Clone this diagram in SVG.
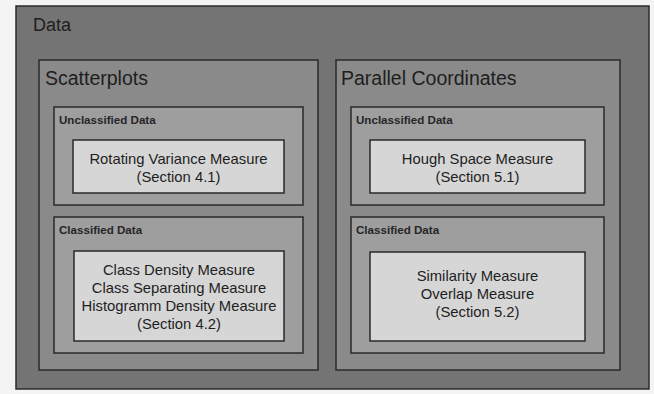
<svg xmlns="http://www.w3.org/2000/svg" width="654" height="394" viewBox="0 0 654 394">
<style>
.b{stroke:#2a2a2a;stroke-width:1.5}
.l0{fill:#747474}
.l1{fill:#8a8a8a}
.l2{fill:#9e9e9e}
.l3{fill:#d6d6d6}
text{font-family:"Liberation Sans",Arial,sans-serif;fill:#1e1e1e}
.t0{font-size:18px}
.t1{font-size:19.5px}
.t2{font-size:11.6px;font-weight:bold;fill:#262626}
.t3{font-size:14.8px;text-anchor:middle}
</style>
<rect width="654" height="394" fill="#f4f4f4"/>
<g id="data">
<rect class="b l0" x="16" y="6" width="633" height="383"/>
<text class="t0" x="33" y="31">Data</text>
</g>
<g id="scatterplots">
<rect class="b l1" x="39" y="60" width="279" height="310"/>
<text class="t1" x="45" y="85">Scatterplots</text>
</g>
<g id="sp-unclassified">
<rect class="b l2" x="54" y="107" width="249" height="98"/>
<text class="t2" x="59" y="124">Unclassified Data</text>
</g>
<g id="sp-rotating">
<rect class="b l3" x="73" y="140" width="211" height="53"/>
<text class="t3" x="178.5" y="164">Rotating Variance Measure</text>
<text class="t3" x="178.5" y="182">(Section 4.1)</text>
</g>
<g id="sp-classified">
<rect class="b l2" x="54" y="217" width="249" height="136"/>
<text class="t2" x="59" y="234">Classified Data</text>
</g>
<g id="sp-class">
<rect class="b l3" x="74" y="251" width="210" height="90"/>
<text class="t3" x="179" y="275">Class Density Measure</text>
<text class="t3" x="179" y="293">Class Separating Measure</text>
<text class="t3" x="179" y="311">Histogramm Density Measure</text>
<text class="t3" x="179" y="329">(Section 4.2)</text>
</g>
<g id="parallel">
<rect class="b l1" x="336" y="60" width="284" height="310"/>
<text class="t1" x="341" y="85">Parallel Coordinates</text>
</g>
<g id="pc-unclassified">
<rect class="b l2" x="351" y="107" width="253" height="98"/>
<text class="t2" x="356" y="124">Unclassified Data</text>
</g>
<g id="pc-hough">
<rect class="b l3" x="370" y="140" width="215" height="53"/>
<text class="t3" x="477.5" y="164">Hough Space Measure</text>
<text class="t3" x="477.5" y="182">(Section 5.1)</text>
</g>
<g id="pc-classified">
<rect class="b l2" x="351" y="217" width="253" height="136"/>
<text class="t2" x="356" y="234">Classified Data</text>
</g>
<g id="pc-similarity">
<rect class="b l3" x="370" y="252" width="215" height="89"/>
<text class="t3" x="477.5" y="281">Similarity Measure</text>
<text class="t3" x="477.5" y="299">Overlap Measure</text>
<text class="t3" x="477.5" y="317">(Section 5.2)</text>
</g>
<g id="connectors"></g>
</svg>
